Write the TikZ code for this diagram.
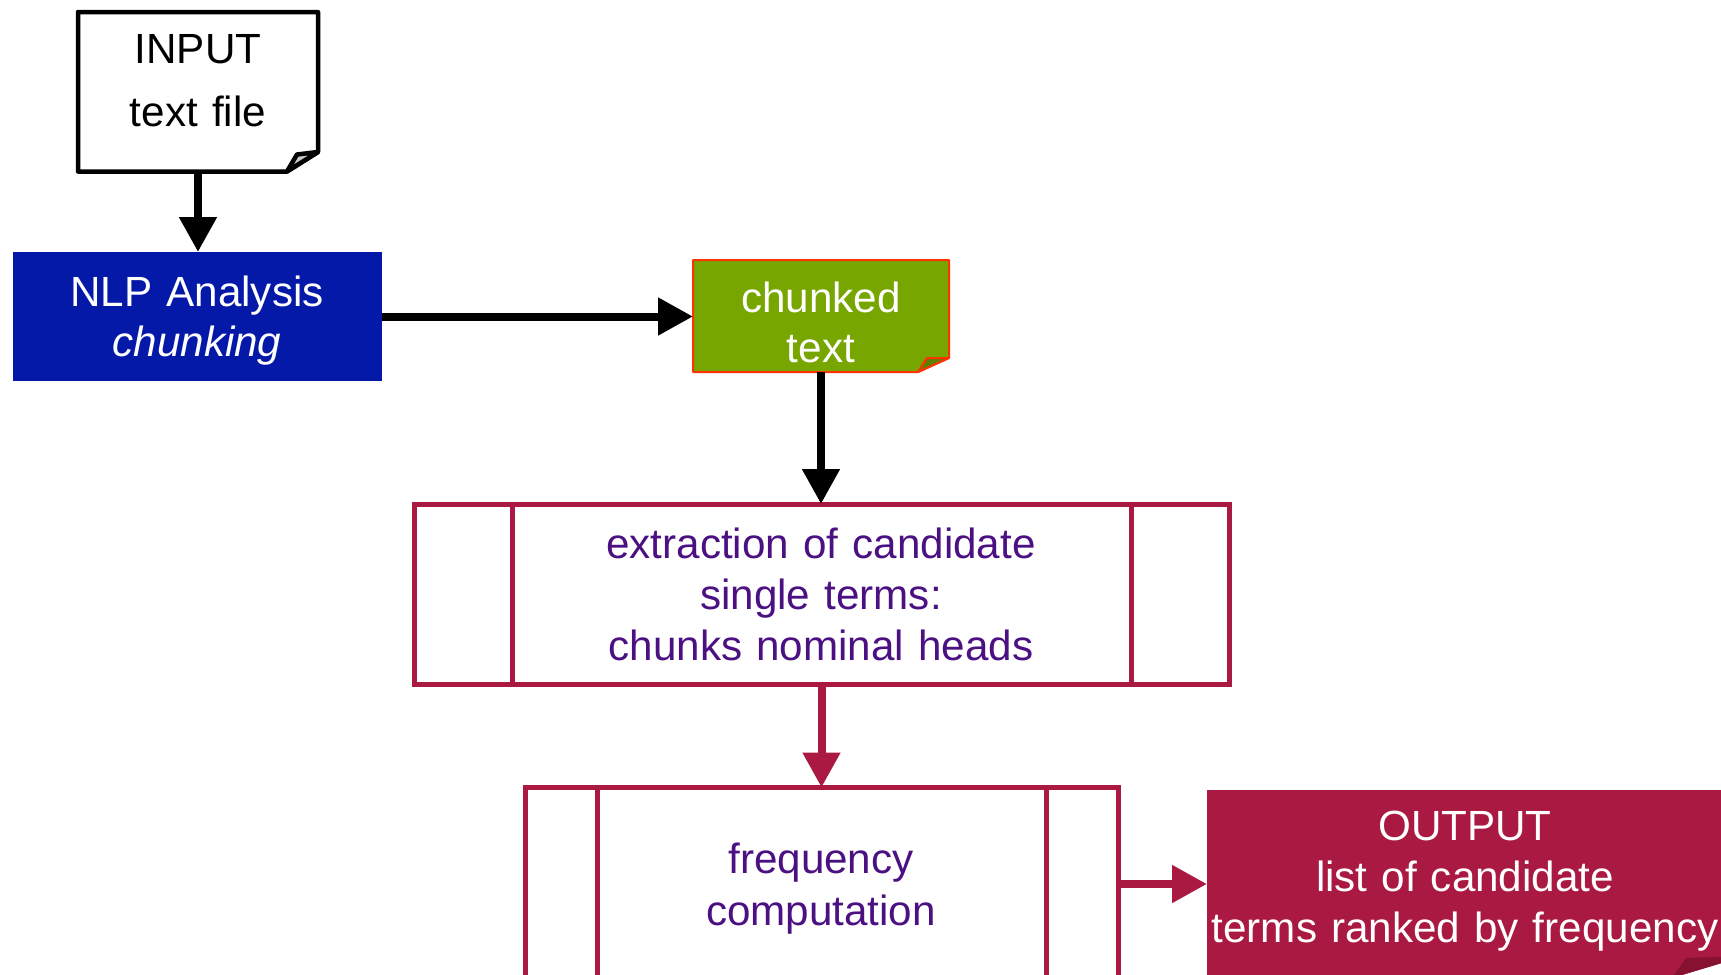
\documentclass[tikz,border=0pt]{standalone}
\usepackage{fontspec}
\setmainfont{Liberation Sans}
\usetikzlibrary{arrows.meta,calc}
\definecolor{nlpblue}{HTML}{0519A8}
\definecolor{chunkgreen}{HTML}{77A600}
\definecolor{chunkflap}{HTML}{5B8000}
\definecolor{chunkedge}{HTML}{FF3300}
\definecolor{crimson}{HTML}{AA1941}
\definecolor{crimsonflap}{HTML}{86122F}
\definecolor{procpurple}{HTML}{4B1082}
\definecolor{pageflap}{HTML}{C8C8C8}
\begin{document}
\begin{tikzpicture}[x=0.5pt,y=-0.5pt,
  box/.style={rectangle,inner sep=0pt,outer sep=0pt},
  txt/.style={anchor=base,inner sep=0pt,align=center,text width=#1,
    font=\fontsize{21.1pt}{25.5pt}\selectfont},
  flow/.style={line width=4pt,-{Triangle[length=17.5pt,width=18pt]}},
  proc/.style={box,draw=crimson,line width=2.5pt}]
\useasboundingbox (0,0) rectangle (1721,975);

% input document with a folded corner
\node[box,minimum width=120pt,minimum height=79.75pt] (infile) at (198,91.75) {};
\draw[line width=2.25pt,line join=round,fill=white]
  (infile.north west) -- (infile.north east)
  -- ($(infile.south east)+(0,-19.5)$) -- ($(infile.south east)+(-31,0)$)
  -- (infile.south west) -- cycle;
\draw[line width=2.25pt,line join=round,fill=pageflap]
  ($(infile.south east)+(-31,0)$) -- ($(infile.south east)+(-21,-17)$)
  -- ($(infile.south east)+(0,-19.5)$) -- cycle;
\node[txt=120pt] (intext) at (198,63) {INPUT\\[6.2pt]text file};

% NLP analysis step
\node[box,fill=nlpblue,minimum width=184.5pt,minimum height=64.5pt] (nlp) at (197.25,316.5) {};
\node[txt=184pt,text=white] (nlptext) at (197,306.5) {NLP Analysis\\[-0.5pt]\textit{chunking}};

% chunked text document
\node[box,minimum width=128pt,minimum height=56pt] (chk) at (821,316) {};
\draw[line width=1pt,line join=round,draw=chunkedge,fill=chunkgreen]
  (chk.north west) -- (chk.north east)
  -- ($(chk.south east)+(0,-14)$) -- ($(chk.south east)+(-31,0)$)
  -- (chk.south west) -- cycle;
\draw[line width=1pt,line join=round,draw=chunkedge,fill=chunkflap]
  ($(chk.south east)+(-31,0)$) -- ($(chk.south east)+(-22,-14)$)
  -- ($(chk.south east)+(0,-14)$) -- cycle;
\node[txt=128pt,text=white] (chktext) at (821,312.5) {chunked\\[-0.5pt]text};

% extraction process
\node[proc,minimum width=407.5pt,minimum height=90pt] (ext) at (821.5,594) {};
\draw[crimson,line width=2.5pt]
  ($(ext.north west)+(98,0)$) -- ($(ext.south west)+(98,0)$)
  ($(ext.north east)+(-98,0)$) -- ($(ext.south east)+(-98,0)$);
\node[txt=300pt,text=procpurple] (exttext) at (821,558)
  {extraction of candidate\\single terms:\\chunks nominal heads};

% frequency process
\node[proc,minimum width=296.5pt,minimum height=106.25pt] (freq) at (821.5,893.75) {};
\draw[crimson,line width=2.5pt]
  ($(freq.north west)+(72,0)$) -- ($(freq.south west)+(72,0)$)
  ($(freq.north east)+(-72,0)$) -- ($(freq.south east)+(-72,0)$);
\node[txt=250pt,text=procpurple] (freqtext) at (821,873) {frequency\\[0.5pt]computation};

% output document
\node[box,minimum width=269pt,minimum height=94pt] (out) at (1476,884) {};
\fill[crimson]
  (out.north west) -- (out.north east)
  -- ($(out.south east)+(0,-22)$) -- ($(out.south east)+(-73,0)$)
  -- (out.south west) -- cycle;
\fill[crimsonflap]
  ($(out.south east)+(-73,0)$) -- ($(out.south east)+(-59,-20)$)
  -- ($(out.south east)+(0,-22)$) -- cycle;
\node[txt=268pt,text=white] (outtext) at (1465,840)
  {OUTPUT\\list of candidate\\terms ranked by frequency};

% connectors
\draw[flow] (infile.south) -- (infile.south |- nlp.north);
\draw[flow] (nlp.east) -- (nlp.east -| chk.west);
\draw[flow] (chk.south) -- (chk.south |- ext.north);
\draw[flow,crimson] (ext.south) -- (ext.south |- freq.north);
\draw[flow,crimson] (freq.east |- out.west) -- (out.west);
\end{tikzpicture}
\end{document}
